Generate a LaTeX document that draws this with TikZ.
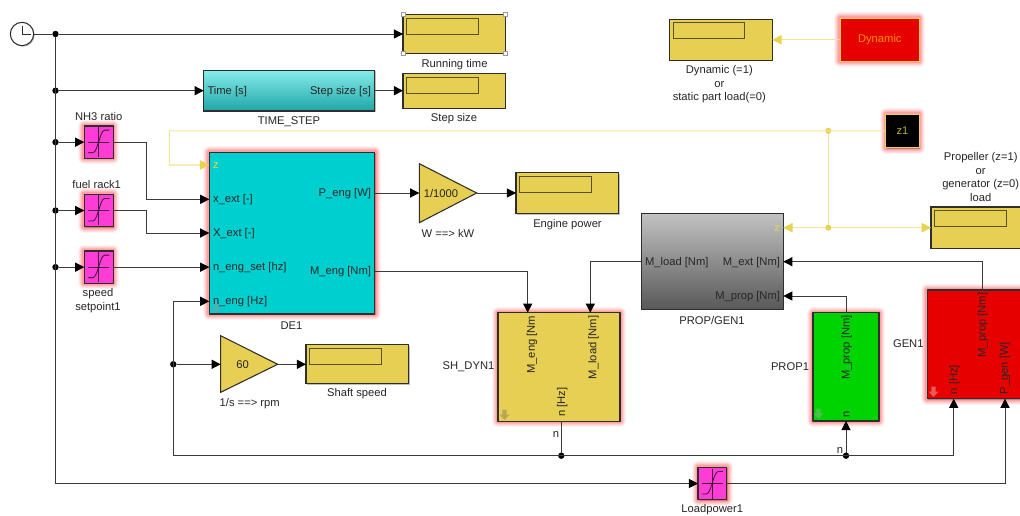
\documentclass[tikz,border=0pt]{standalone}
\usepackage{fontspec}
\setmainfont{Liberation Sans}
\usetikzlibrary{arrows.meta,calc}
\definecolor{wire}{HTML}{3A3A3A}
\definecolor{txt}{HTML}{262626}
\definecolor{edge}{HTML}{2E2E2E}
\definecolor{scopey}{HTML}{E6CF52}
\definecolor{inner}{HTML}{5A5020}
\definecolor{ywire}{HTML}{F4E49A}
\definecolor{ytip}{HTML}{E9D250}
\definecolor{magen}{HTML}{FF3CD6}
\definecolor{redb}{HTML}{E60000}
\definecolor{greenb}{HTML}{00D400}
\definecolor{cyanb}{HTML}{00CFD0}
\definecolor{tstop}{HTML}{86EBE9}
\definecolor{tsmid}{HTML}{78E0DE}
\definecolor{tsbot}{HTML}{1FA6A8}
\definecolor{pgtop}{HTML}{C2C2C2}
\definecolor{pgmid}{HTML}{A2A2A2}
\definecolor{pgbot}{HTML}{585858}
\definecolor{icoc}{HTML}{4FB0B6}
\definecolor{icoy}{HTML}{B8A65A}
\definecolor{icog}{HTML}{4CC24C}
\definecolor{icor}{HTML}{E85A5A}
\tikzset{
  every node/.style={font=\fontsize{8.4}{10.1}\selectfont,text=txt,inner sep=0pt,outer sep=0pt},
  lab/.style={align=center,yshift=-.6pt},
  portl/.style={anchor=west,yshift=-.6pt},
  portr/.style={anchor=east,yshift=-.6pt},
  portv/.style={rotate=90,xshift=.6pt},
  sdw/.style={preaction={fill=black,opacity=.25,transform canvas={xshift=.8pt,yshift=-.8pt}}},
  glow/.style={line join=round,
    preaction={draw=red,opacity=.05,line width=9pt},
    preaction={draw=red,opacity=.07,line width=7.5pt},
    preaction={draw=red,opacity=.08,line width=6pt},
    preaction={draw=red,opacity=.10,line width=4.5pt},
    preaction={draw=red,opacity=.12,line width=3pt}},
  blk/.style={draw=edge,line width=.8pt,sdw},
  scopeb/.style={blk,fill=scopey},
  innerb/.style={draw=inner,line width=.6pt},
  satb/.style={blk,fill=magen,glow},
  wireln/.style={draw=wire,line width=.7pt},
  arr/.style={wireln,-{Triangle[length=6.8pt,width=6.8pt,color=black]}},
  yln/.style={draw=ywire,line width=.8pt},
  yarr/.style={yln,-{Triangle[length=7pt,width=7pt,color=ytip]}},
  jn/.style={circle,fill=black,minimum size=4.8pt},
  yjn/.style={circle,fill=ytip,minimum size=4.6pt},
  gainb/.style={draw=edge,line width=.8pt,fill=scopey,line join=miter},
  hndl/.style={draw=black!40,fill=white,line width=.4pt,minimum size=3pt},
}
\newcommand\blk[6][]{\node[#1,minimum width={((#4)-(#2))*0.75pt},minimum height={((#5)-(#3))*0.75pt}] (#6) at ({((#2)+(#4))/2},{((#3)+(#5))/2}) {};}
\newcommand\scp[5]{\blk[scopeb]{#1}{#2}{#3}{#4}{#5}
  \blk[innerb]{#1+3.6}{#2+3.4}{#1+75}{#2+19.6}{#5i}}
\newcommand\satur[1]{\draw[black!75!magen,line width=.5pt] ($(#1)+(-10.5,0)$) -- ($(#1)+(10.5,0)$) ($(#1)+(0,-15)$) -- ($(#1)+(0,15)$);
  \draw[black!75!magen,line width=.6pt] ($(#1)+(-10.5,10.5)$) -- ($(#1)+(-6,10.5)$) .. controls ($(#1)+(-1,10.5)$) and ($(#1)+(1,-12)$) .. ($(#1)+(6,-12)$) -- ($(#1)+(10.5,-12)$);}
\newcommand\dnicon[3]{\fill[#3] (#1-2.2,#2-5.5) -- (#1+2.2,#2-5.5) -- (#1+2.2,#2-0.5) -- (#1+5,#2-0.5) -- (#1,#2+5) -- (#1-5,#2-0.5) -- (#1-2.2,#2-0.5) -- cycle;}
\begin{document}
\begin{tikzpicture}[x=0.75pt,y=-0.75pt]
\useasboundingbox (0,0) rectangle (1020,516);
\clip (0,0) rectangle (1020,516);
\fill[white] (0,0) rectangle (1020,516);

% blocks
\node[circle,draw=edge,line width=.8pt,fill=white,minimum size=17.5pt,sdw] (clock) at (22,34) {};
\draw[edge,line width=.5pt] (22,26) -- (22,34) -- (31,34);

\scp{403}{14.7}{505.3}{53.3}{srun}
\scp{403}{73.7}{505.3}{108.3}{sstep}
\scp{516}{172.7}{618.7}{213.7}{spow}
\scp{306}{344.7}{408.7}{383.7}{sshaft}
\scp{669.7}{19.3}{772.3}{60.3}{sdyn}
\scp{931}{207}{1036}{248.3}{sload}

\foreach \hx/\hy/\hn in {403/14.7/a,505.3/14.7/b,403/53.3/c,505.3/53.3/d}
  \node[hndl] (h\hn) at (\hx,\hy) {};

\blk[blk,top color=tstop,middle color=tsmid,bottom color=tsbot]{203.7}{70.3}{374.7}{111}{tstep}
\blk[satb]{84.3}{126}{113.3}{158.3}{nh3}
\blk[satb]{84.3}{194.3}{113.3}{226.7}{fuel}
\blk[satb]{84.3}{251}{113.3}{283.3}{speed}
\blk[satb]{698}{467.3}{726.7}{499.7}{lpow}
\satur{nh3}\satur{fuel}\satur{speed}\satur{lpow}

\blk[blk,fill=cyanb,glow]{209.3}{152.3}{374.7}{314}{de}
\blk[blk,fill=scopey,glow]{498}{312.7}{620}{421.3}{sh}
\blk[blk,top color=pgtop,middle color=pgmid,bottom color=pgbot]{641.3}{213.7}{783.3}{309.3}{pg}
\blk[blk,fill=greenb,glow]{813}{312.7}{879}{421}{prop}
\blk[blk,fill=redb,glow]{927.3}{290}{1050}{398.7}{gen}
\blk[draw=ytip,line width=.7pt,fill=redb,glow,sdw]{840.3}{18.3}{919.3}{61.3}{dyn}
\blk[draw=ytip,line width=.7pt,fill=black,glow,sdw]{885.7}{114}{919.3}{147.7}{zone}
\node[text=orange!85!yellow] (dyntxt) at (dyn) {Dynamic};
\node[text=ytip!80!black] (zonetxt) at (zone) {z1};

% gains
\draw[gainb] (419.3,163.7) -- (476.7,193) -- (419.3,222.7) -- cycle;
\draw[gainb] (220.7,335.7) -- (277.7,364.3) -- (220.7,392.3) -- cycle;
\node (gk) at (441,193.5) {1/1000};
\node (gs) at (242.5,364.8) {60};

% icons
\dnicon{216.5}{308}{icoc}
\dnicon{504.5}{415}{icoy}
\dnicon{818.5}{414}{icog}
\dnicon{933.5}{392}{icor}

% port coordinates
\coordinate (de-z) at (209.3,165);
\coordinate (de-x) at (209.3,199.3);
\coordinate (de-X) at (209.3,233);
\coordinate (de-n) at (209.3,301.3);
\coordinate (de-P) at (374.7,193);
\coordinate (de-M) at (374.7,271);
\coordinate (k-in) at (419.3,193);
\coordinate (k-out) at (476.7,193);
\coordinate (g-in) at (220.7,364.3);
\coordinate (g-out) at (277.7,364.3);
\coordinate (sh-eng) at (527.7,312.7);
\coordinate (sh-load) at (590.3,312.7);
\coordinate (sh-n) at (561.3,421.3);
\coordinate (pg-z) at (783.3,227.7);
\coordinate (pg-load) at (641.3,261.7);
\coordinate (pg-ext) at (783.3,261.7);
\coordinate (pg-prop) at (783.3,296);
\coordinate (prop-m) at (846,312.7);
\coordinate (prop-n) at (846,421);
\coordinate (gen-m) at (982.7,290);
\coordinate (gen-n) at (953.7,398.7);
\coordinate (gen-p) at (1005,398.7);
\coordinate (sl-in) at (931,227.7);
\coordinate (corner) at (55.5,483.5);
\coordinate (nbl) at (173.3,455.7);
\coordinate (zcorner) at (169.4,130.85);

% junctions
\node[jn] (j0) at (55.5,34) {};
\node[jn] (j1) at (55.5,90.7) {};
\node[jn] (j2) at (55.5,142.15) {};
\node[jn] (j3) at (55.5,210.5) {};
\node[jn] (j4) at (55.5,267.15) {};
\node[jn] (j5) at (173.3,364.3) {};
\node[jn] (j6) at (561.3,455.7) {};
\node[jn] (j7) at (846,455.7) {};
\node[yjn] (jy1) at (828.3,130.85) {};
\node[yjn] (jy2) at (828.3,227.7) {};

% black wires
\draw[wireln] (clock.east) -- (j0);
\draw[arr] (j0) -- (srun.west |- j0);
\draw[wireln] (j0) -- (corner);
\draw[arr] (corner) -- (lpow.west |- corner);
\draw[arr] (j1) -- (tstep.west |- j1);
\draw[arr] (tstep.east |- j1) -- (sstep.west |- j1);
\draw[arr] (j2) -- (nh3.west |- j2);
\draw[arr] (j3) -- (fuel.west |- j3);
\draw[arr] (j4) -- (speed.west |- j4);
\draw[arr] (nh3.east) -- (146,142.15) |- (de-x);
\draw[arr] (fuel.east) -- (146,210.5) |- (de-X);
\draw[arr] (speed.east) -- (de.west |- speed.east);
\draw[arr] (de-P) -- (k-in);
\draw[arr] (k-out) -- (spow.west |- k-out);
\draw[arr] (de-M) -| (sh-eng);
\draw[arr] (pg-load) -| (sh-load);
\draw[wireln] (sh-n) -- (j6);
\draw[arr] (nbl) |- (de-n);
\draw[arr] (j5) -- (g-in);
\draw[arr] (g-out) -- (sshaft.west |- g-out);
\draw[arr] (nbl) -| (gen-n);
\draw[arr] (j7) -- (prop-n);
\draw[arr] (lpow.east) -| (gen-p);
\draw[arr] (prop-m) |- (pg-prop);
\draw[arr] (gen-m) |- (pg-ext);

% yellow wires
\draw[yarr] (zone.west) -- (zcorner) |- (de-z);
\draw[yln] (jy1) -- (jy2);
\draw[yarr] (jy2) -- (pg-z);
\draw[yarr] (jy2) -- (sl-in);
\draw[yarr] (dyn.west) -- (sdyn.east |- dyn.west);

% block-name labels
\node[lab] (l1) at (454.5,63.5) {Running time};
\node[lab] (l2) at (454,118) {Step size};
\node[lab] (l3) at (289,121) {TIME\_STEP};
\node[lab] (l4) at (98.7,115.5) {NH3 ratio};
\node[lab] (l5) at (96.7,184) {fuel rack1};
\node[lab] (l6) at (98,300) {speed\\setpoint1};
\node[lab] (l7) at (291.5,324.5) {DE1};
\node[lab] (l8) at (448,232.5) {W ==> kW};
\node[lab] (l9) at (567.5,224) {Engine power};
\node[lab] (l10) at (249.7,402.5) {1/s ==> rpm};
\node[lab] (l11) at (357,393) {Shaft speed};
\node[lab] (l12) at (468.5,366.3) {SH\_DYN1};
\node[lab] (l13) at (712,319.5) {PROP/GEN1};
\node[lab] (l14) at (790,366.3) {PROP1};
\node[lab] (l15) at (908.3,343.3) {GEN1};
\node[lab] (l16) at (712.3,509) {Loadpower1};
\node[lab] (l17) at (719.3,83.5) {Dynamic (=1)\\or\\static part load(=0)};
\node[lab] (l18) at (980.7,176) {Propeller (z=1)\\or\\generator (z=0)\\load};
\node[lab] (l19) at (556,434) {n};
\node[lab] (l20) at (840,449.7) {n};

% port labels
\node[portl] (p1) at (207.5,90.7) {Time [s]};
\node[portr] (p2) at (371,90.7) {Step size [s]};
\node[portl,text=ytip] (p3) at (213,165) {z};
\node[portl] (p4) at (213,199.3) {x\_ext [-]};
\node[portl] (p5) at (213,233) {X\_ext [-]};
\node[portl] (p6) at (213,267) {n\_eng\_set [hz]};
\node[portl] (p7) at (213,301.3) {n\_eng [Hz]};
\node[portr] (p8) at (371,193) {P\_eng [W]};
\node[portr] (p9) at (371,271) {M\_eng [Nm]};
\node[portl] (p10) at (645,262) {M\_load [Nm]};
\node[portr,text=ytip] (p11) at (780,228) {z};
\node[portr] (p12) at (780,262) {M\_ext [Nm]};
\node[portr] (p13) at (780,296) {M\_prop [Nm]};
\node[portv,anchor=east] (p14) at (532,316.5) {M\_eng [Nm};
\node[portv,anchor=east] (p15) at (593.5,316.5) {M\_load [Nm]};
\node[portv,anchor=west] (p16) at (562.3,417.5) {n [Hz]};
\node[portv,anchor=east] (p17) at (846.7,316) {M\_prop [Nm]};
\node[portv,anchor=west] (p18) at (846.7,418) {n};
\node[portv,anchor=east] (p19) at (982.7,293.5) {M\_prop [Nm]};
\node[portv,anchor=west] (p20) at (954.5,395) {n [Hz]};
\node[portv,anchor=west] (p21) at (1005,395) {P\_gen [W]};
\end{tikzpicture}
\end{document}
